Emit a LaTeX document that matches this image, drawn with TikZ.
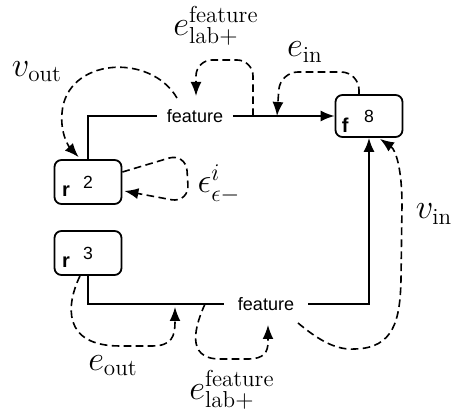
\documentclass[tikz,border=0pt]{standalone}
\usepackage{fontspec}
\newfontfamily\helv{Liberation Sans}
\usetikzlibrary{arrows.meta,calc}
\begin{document}
\begin{tikzpicture}[x=0.5pt,y=-0.5pt,
  box/.style={draw, line width=0.9pt, rounded corners=3.5pt, minimum width=33.5pt, minimum height=22pt, inner sep=0pt, font=\helv\fontsize{8.8}{10}\selectfont},
  lett/.style={anchor=base west, inner sep=0pt, font=\helv\bfseries\fontsize{10}{12}\selectfont},
  edge/.style={line width=0.9pt, -{Latex[length=7pt,width=5.5pt]}},
  flow/.style={line width=0.8pt, dash pattern=on 3.8pt off 2.2pt, -{Latex[length=7pt,width=5.5pt]}},
  feat/.style={fill=white, font=\helv\fontsize{9}{11}\selectfont, inner ysep=2pt},
  lab/.style={font=\fontsize{16.5}{19}\selectfont, inner sep=0pt}
]
\useasboundingbox (0,0) rectangle (451,411);
% boxes
\node[box] (r2) at (88,182) {2};
\node[box] (r3) at (88,253) {3};
\node[box, minimum height=21pt] (f8) at (369,116) {8};
\node[lett] (r2l) at ($(r2.south west)+(8,-8)$) {r};
\node[lett] (r3l) at ($(r3.south west)+(8,-8)$) {r};
\node[lett] (f8l) at ($(f8.south west)+(7,-5)$) {f};
% solid connectors
\node[feat, inner xsep=4.75pt] (ft) at (195,116) {feature};
\node[feat, inner xsep=7pt] (fb) at (266,304) {feature};
\draw[line width=0.9pt] (r2.north) |- (ft.west);
\draw[edge] (ft.east) -- (f8.west);
\draw[line width=0.9pt] (r3.south) |- (fb.west);
\draw[edge] (fb.east) -| (f8.south);
% free ends
\coordinate (vo) at (177,98);
\coordinate (elt) at (253,116);
\coordinate (eltend) at (196,96);
\coordinate (ein) at (277,116);
\coordinate (vi) at (298,323);
\coordinate (eo) at (175,307);
\coordinate (elb) at (205,304);
\coordinate (elbend) at (268,325);
% dashed connectors
\draw[flow] (vo) .. controls (150,52) and (66,58) .. (62,113)
  .. controls (60,135) and (70,148) .. ($(r2.north west)+(25,-2)$);
\draw[flow, rounded corners=8pt] (elt) -- (253,60) -- (196,60) -- (eltend);
\draw[flow, rounded corners=9pt] ($(f8.north)+(-10,0)$) -- (359,72) -- (280,72) -- (ein);
\draw[flow, rounded corners=9pt] ($(r2.east)+(0,-10)$) -- (186,153) -- (189,203) -- ($(r2.east)+(2,9)$);
\draw[flow] (vi) .. controls (322,343) and (338,350) .. (355,349)
  .. controls (394,348) and (400,320) .. (401,280) -- (402,205)
  .. controls (402,170) and (396,150) .. ($(f8.south)+(11,1)$);
\draw[flow] ($(r3.south)+(-8,0)$) .. controls (66,305) and (62,346) .. (120,346)
  -- (152,346) .. controls (172,346) and (175,336) .. (175,322) -- (eo);
\draw[flow] (elb) .. controls (196,324) and (184,359) .. (220,359)
  -- (248,359) .. controls (264,359) and (268,352) .. (268,342) -- (elbend);
% labels
\node[lab] (lvo) at (37,72) {$v_{\mathrm{out}}$};
\node[lab] (llt) at (216,26) {$e^{\mathrm{feature}}_{\mathrm{lab}+}$};
\node[lab] (lin) at (305,52) {$e_{\mathrm{in}}$};
\node[lab] (leps) at (219,184) {$\epsilon^{i}_{\epsilon-}$};
\node[lab] (lvi) at (434,214) {$v_{\mathrm{in}}$};
\node[lab] (lout) at (113,366) {$e_{\mathrm{out}}$};
\node[lab] (llb) at (232,390) {$e^{\mathrm{feature}}_{\mathrm{lab}+}$};
\end{tikzpicture}
\end{document}
